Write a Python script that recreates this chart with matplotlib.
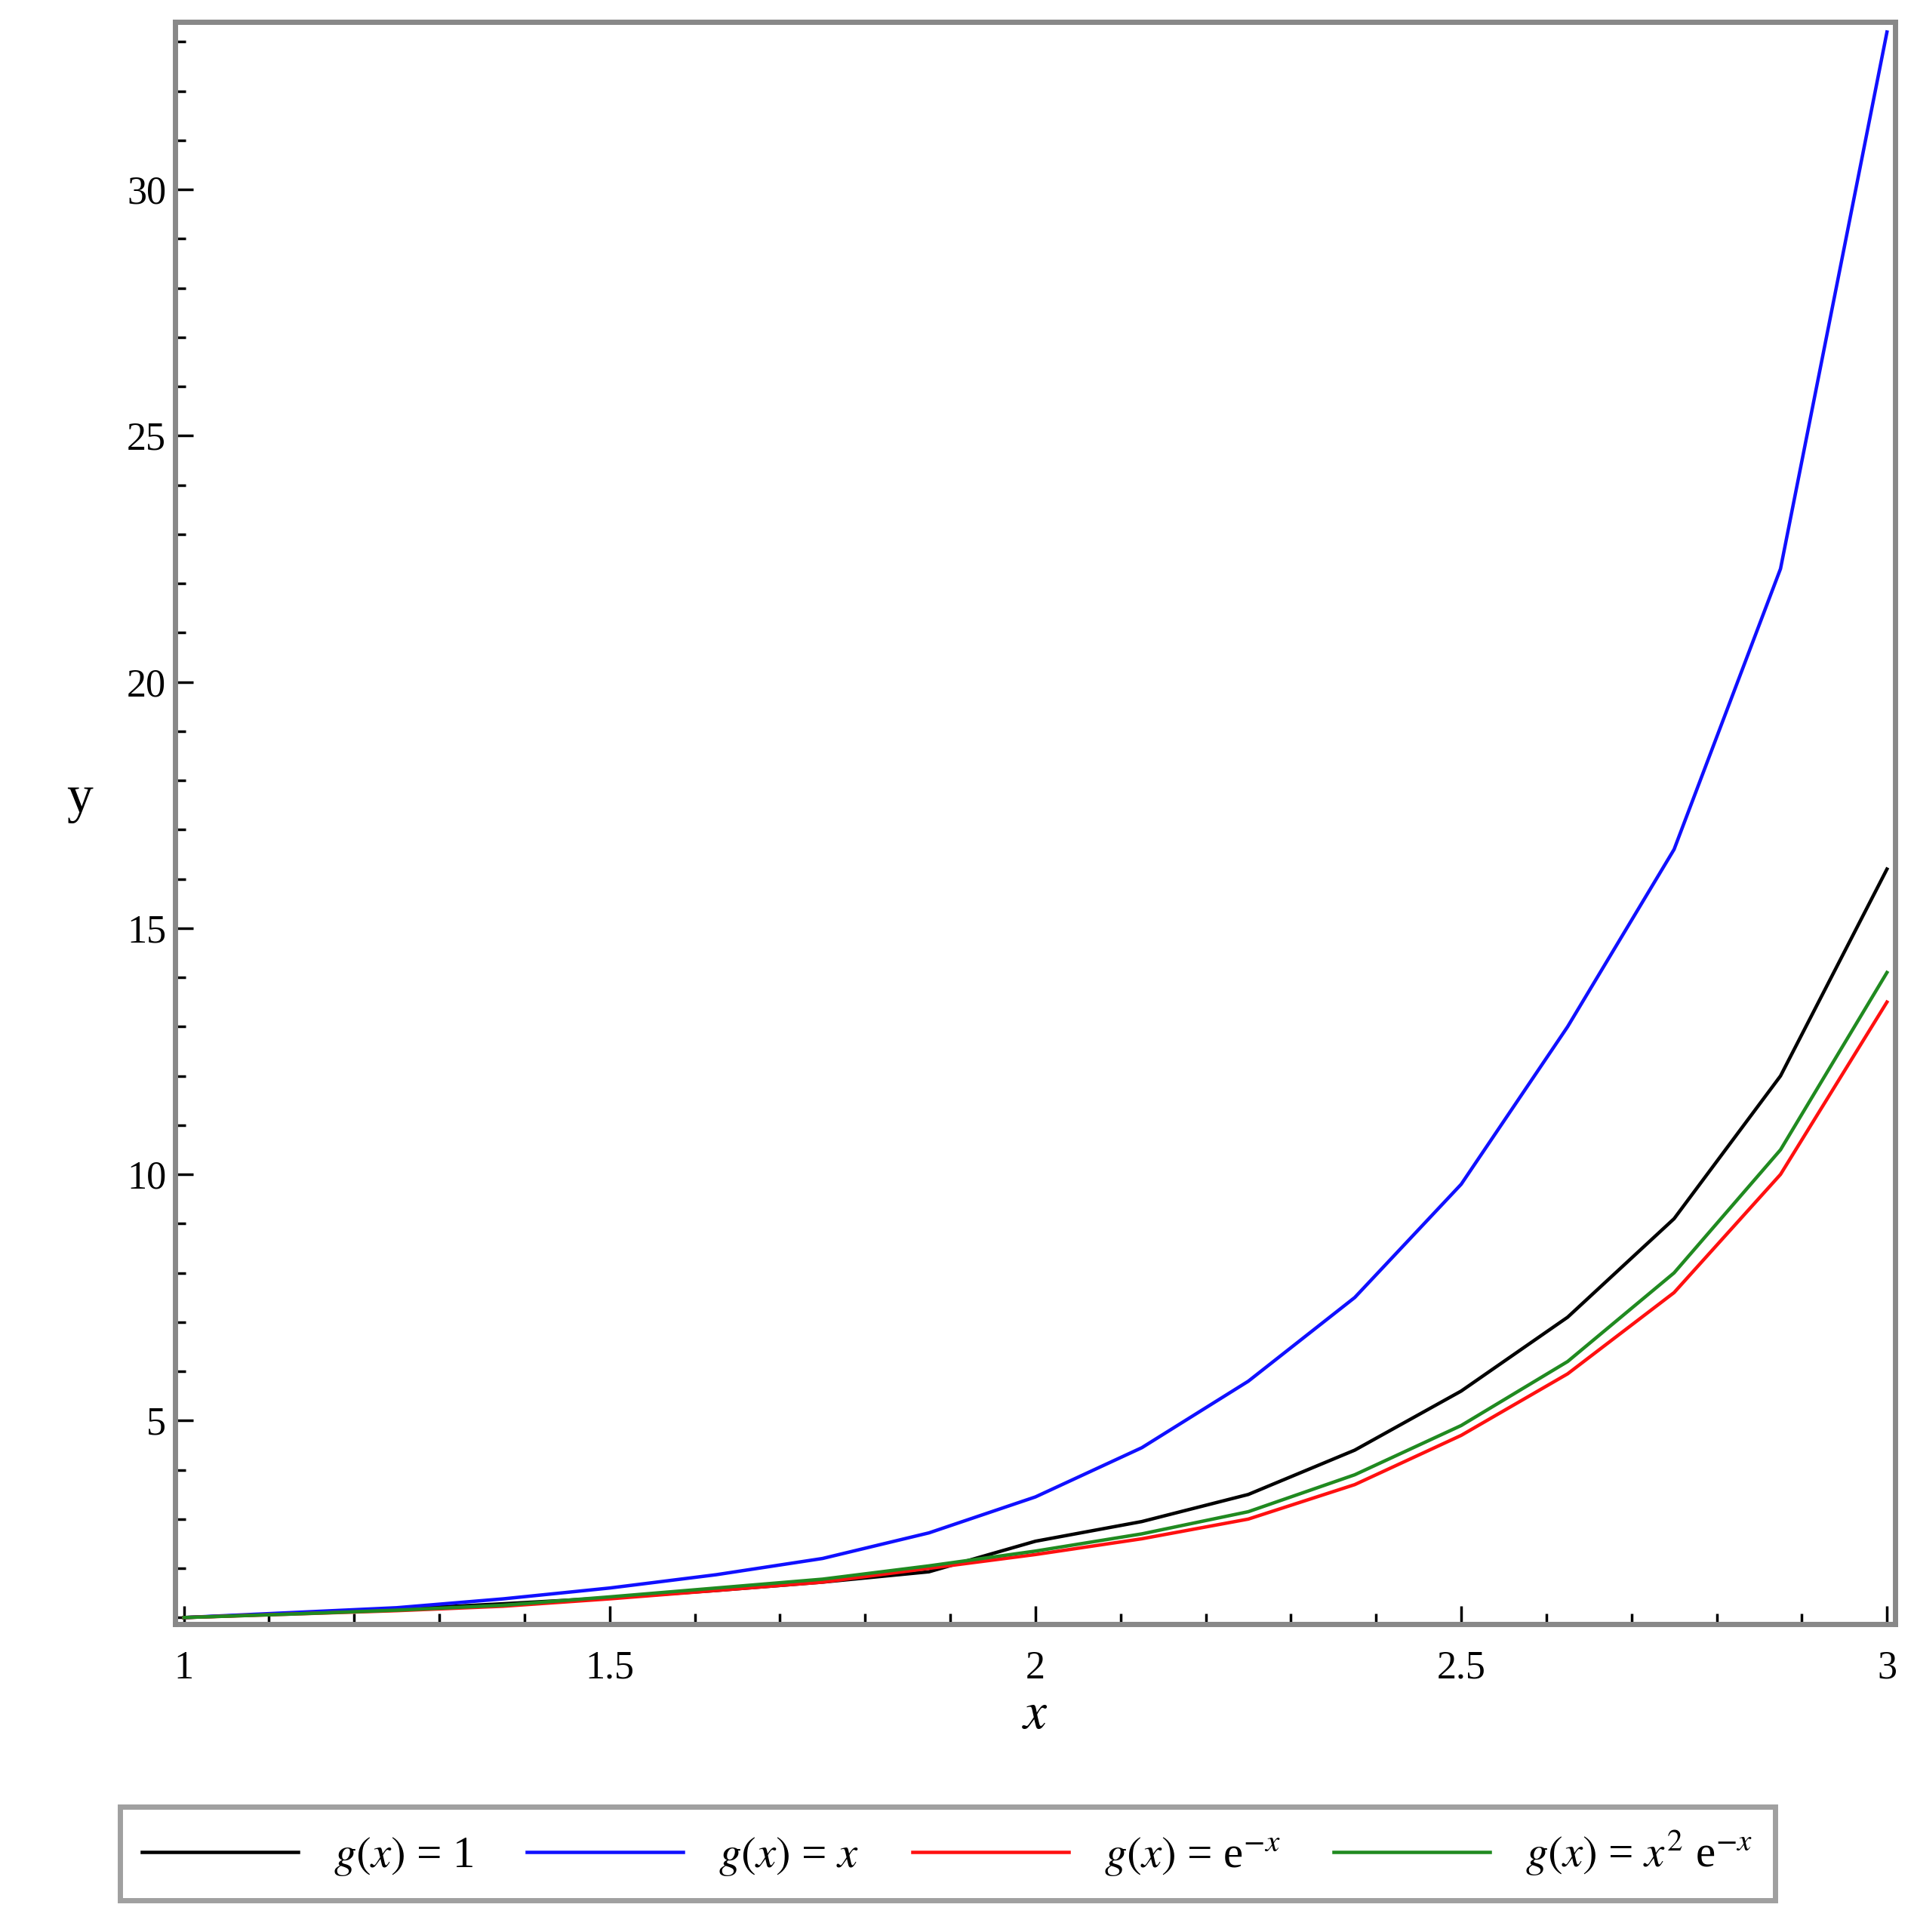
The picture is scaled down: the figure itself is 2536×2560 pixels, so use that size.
import matplotlib.pyplot as plt
from matplotlib.ticker import MultipleLocator

plt.rcParams['font.family'] = ['Liberation Serif', 'DejaVu Serif']
plt.rcParams['mathtext.fontset'] = 'stix'

x = [1.0, 1.125, 1.25, 1.375, 1.5, 1.625, 1.75, 1.875, 2.0,
     2.125, 2.25, 2.375, 2.5, 2.625, 2.75, 2.875, 3.0]
y_one = [1.0, 1.08, 1.17, 1.28, 1.4, 1.55, 1.72, 1.93, 2.55,
         2.95, 3.5, 4.4, 5.6, 7.1, 9.1, 12.0, 16.2]
y_x = [1.0, 1.1, 1.2, 1.38, 1.6, 1.87, 2.2, 2.72, 3.45,
       4.45, 5.8, 7.5, 9.8, 13.0, 16.6, 22.3, 33.2]
y_exp = [1.0, 1.07, 1.14, 1.23, 1.38, 1.55, 1.72, 2.0, 2.28,
         2.6, 3.0, 3.7, 4.7, 5.95, 7.6, 10.0, 13.5]
y_x2exp = [1.0, 1.07, 1.15, 1.25, 1.42, 1.6, 1.78, 2.05, 2.35,
           2.7, 3.15, 3.9, 4.9, 6.2, 8.0, 10.5, 14.1]

fig = plt.figure(figsize=(10.144, 10.24), dpi=250)
ax = fig.add_axes([142 / 1550, 1 - 1318 / 1568, 1393 / 1550, 1300 / 1568])

ax.plot(x, y_one, color='black', lw=1.3, label=r'$g(x)$ = 1')
ax.plot(x, y_x, color='#1010ff', lw=1.3, label=r'$g(x)$ = $x$')
ax.plot(x, y_exp, color='#ff1010', lw=1.3, label=r'$g(x)$ = e$^{-x}$')
ax.plot(x, y_x2exp, color='#208a20', lw=1.3, label=r'$g(x)$ = $x^2$ e$^{-x}$')

ax.set_xlim(0.99, 3.01)
ax.set_ylim(0.87, 33.4)
ax.xaxis.set_major_locator(MultipleLocator(0.5))
ax.xaxis.set_minor_locator(MultipleLocator(0.1))
ax.yaxis.set_major_locator(MultipleLocator(5))
ax.yaxis.set_minor_locator(MultipleLocator(1))
ax.set_xticks([1, 1.5, 2, 2.5, 3])
ax.set_xticklabels(['1', '1.5', '2', '2.5', '3'])
ax.tick_params(which='both', direction='in', labelsize=15)
ax.tick_params(which='major', length=7, width=1)
ax.tick_params(which='minor', length=4, width=1)
ax.tick_params(axis='x', pad=10)
for s in ax.spines.values():
    s.set_color('#888888')
    s.set_linewidth(2)

ax.set_xlabel(r'$x$', fontsize=20, labelpad=2)
ax.set_ylabel('y', fontsize=20, rotation=0, labelpad=18)

leg = fig.legend(loc='lower center', ncol=4, bbox_to_anchor=(0.495, 0.005),
                 fontsize=17, frameon=True, fancybox=False, handlelength=3.5,
                 columnspacing=1.2, borderpad=0.5)
leg.get_frame().set_edgecolor('#888888')
leg.get_frame().set_linewidth(2)

fig.savefig('out.png')
